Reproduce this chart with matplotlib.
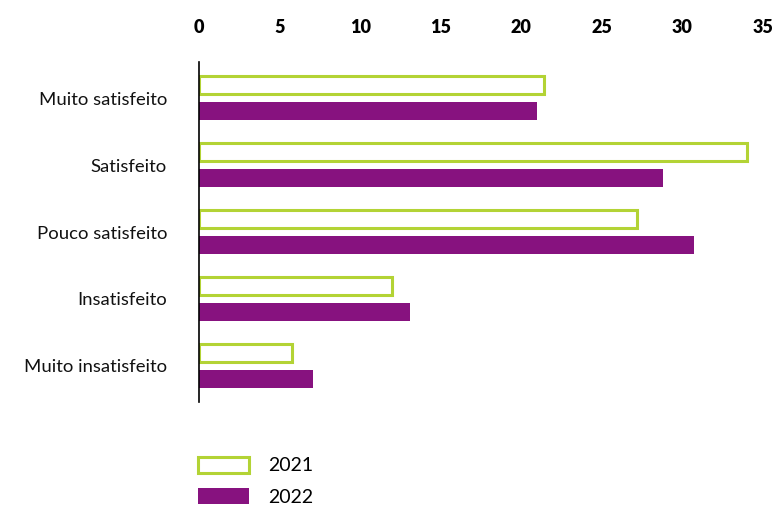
import matplotlib
matplotlib.use("Agg")
import matplotlib.pyplot as plt
import numpy as np

categories = ["Muito satisfeito", "Satisfeito", "Pouco satisfeito",
              "Insatisfeito", "Muito insatisfeito"]
values_2021 = [21.4, 34.0, 27.2, 12.0, 5.8]
values_2022 = [21.0, 28.8, 30.7, 13.1, 7.1]
xticks = [0, 5, 10, 15, 20, 25, 30, 35]
series_labels = ["2021", "2022"]

GREEN = "#b3d335"
PURPLE = "#87127f"

plt.rcParams["font.family"] = ["Lato", "DejaVu Sans"]

fig = plt.figure(figsize=(7.81, 5.07), dpi=100)
ax = fig.add_axes([199 / 781, 1 - 402 / 507, (763 - 199) / 781, 340 / 507])

y = np.arange(len(categories))
h = 0.27
off = 0.19
b1 = ax.barh(y - off, values_2021, height=h, facecolor="white",
             edgecolor=GREEN, linewidth=2.2, label=series_labels[0])
b2 = ax.barh(y + off, values_2022, height=h, color=PURPLE,
             label=series_labels[1])

ax.set_xlim(0, 35)
ax.set_ylim(4.54, -0.54)
ax.set_yticks(y)
ax.set_yticklabels(categories, fontsize=13.3, color="#111111")
ax.set_xticks(xticks)
ax.set_xticklabels([str(t) for t in xticks], fontsize=13, fontweight="heavy")
ax.xaxis.tick_top()
ax.tick_params(axis="both", length=0)
ax.tick_params(axis="x", pad=19)
ax.tick_params(axis="y", pad=23)

for s in ["top", "right", "bottom"]:
    ax.spines[s].set_visible(False)
ax.spines["left"].set_linewidth(1.2)
ax.spines["left"].set_color("black")

fig.legend(handles=[b1, b2], labels=series_labels, loc="upper left",
           bbox_to_anchor=(198 / 781, 1 - 457 / 507), frameon=False,
           fontsize=14, handlelength=2.6, handleheight=0.85,
           labelspacing=0.72, handletextpad=1.0, borderaxespad=0,
           borderpad=0)

fig.savefig("out.png", dpi=100)
